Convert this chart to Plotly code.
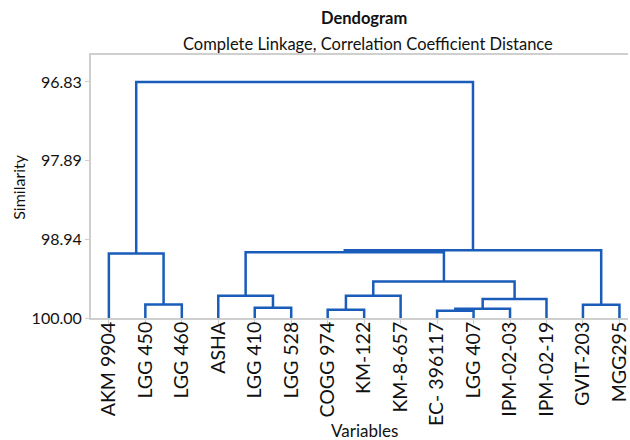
import plotly.graph_objects as go

# Leaf labels in dendrogram order
leaf_labels = ["AKM 9904", "LGG 450", "LGG 460", "ASHA", "LGG 410", "LGG 528",
               "COGG 974", "KM-122", "KM-8-657", "EC- 396117", "LGG 407",
               "IPM-02-03", "IPM-02-19", "GVIT-203", "MGG295"]

# Merge steps: clusters 0..14 are leaves, each step creates a new cluster id (15, 16, ...)
merge_left = [1, 4, 6, 9, 18, 13, 19, 3, 17, 23, 0, 22, 26, 25]
merge_right = [2, 5, 7, 10, 11, 14, 12, 16, 8, 21, 15, 24, 20, 27]
merge_similarity = [99.818, 99.862, 99.889, 99.902, 99.875, 99.822, 99.745,
                    99.701, 99.701, 99.509, 99.133, 99.117, 99.090, 96.83]

# Similarity axis ticks
y_ticks = [96.83, 97.89, 98.94, 100.00]

LINE_BLUE = "#1a5cb9"
AXIS_GRAY = "#cfcfcf"
TEXT = "#111111"
FONT = "Lato"

n_leaves = len(leaf_labels)
pos = {i: float(i) for i in range(n_leaves)}
height = {i: 100.0 for i in range(n_leaves)}

# Build the U-shaped links of the tree
xs, ys = [], []
for k, (a, b, h) in enumerate(zip(merge_left, merge_right, merge_similarity)):
    new_id = n_leaves + k
    xs += [pos[a], pos[a], pos[b], pos[b], None]
    ys += [height[a], h, h, height[b], None]
    pos[new_id] = (pos[a] + pos[b]) / 2
    height[new_id] = h

fig = go.Figure()
fig.add_trace(go.Scatter(x=xs, y=ys, mode="lines",
                         line=dict(color=LINE_BLUE, width=2.5),
                         hoverinfo="skip", showlegend=False))

fig.update_layout(
    width=630, height=440,
    margin=dict(l=91, r=0, t=55, b=122),
    paper_bgcolor="white", plot_bgcolor="white",
    font=dict(family=FONT, color=TEXT),
    showlegend=False,
)

fig.update_xaxes(
    range=[-0.49, 14.235],
    tickmode="array", tickvals=list(range(n_leaves)), ticktext=leaf_labels,
    tickangle=-90, tickfont=dict(size=19.5, family=FONT, color=TEXT),
    ticklabeloverflow="allow", ticklabelstandoff=-10,
    ticks="outside", ticklen=4, tickcolor=AXIS_GRAY, tickwidth=1,
    showline=True, linecolor=AXIS_GRAY, linewidth=2, mirror=True,
    showgrid=False, zeroline=False,
)
fig.update_yaxes(
    range=[100.0, 96.468],
    tickmode="array", tickvals=y_ticks, ticktext=[f"{v:.2f}" for v in y_ticks],
    tickfont=dict(size=16, family=FONT, color=TEXT),
    ticks="outside", ticklen=4, tickcolor=AXIS_GRAY, tickwidth=1,
    showline=True, linecolor=AXIS_GRAY, linewidth=2,
    showgrid=False, zeroline=False,
)

annotations = [
    dict(text="<b>Dendogram</b>", x=0.508, y=1.1407, size=16.5),
    dict(text="Complete Linkage, Correlation Coefficient Distance", x=0.515, y=1.0418, size=16.5),
    dict(text="Similarity", x=-0.1354, y=0.5, textangle=-90, size=16),
    dict(text="Variables", x=0.51, y=-0.428, size=17),
]
for a in annotations:
    size = a.pop("size")
    fig.add_annotation(xref="paper", yref="paper", showarrow=False,
                       xanchor="center", yanchor="middle",
                       font=dict(family=FONT, color=TEXT, size=size), **a)

fig.write_html("out.html")
